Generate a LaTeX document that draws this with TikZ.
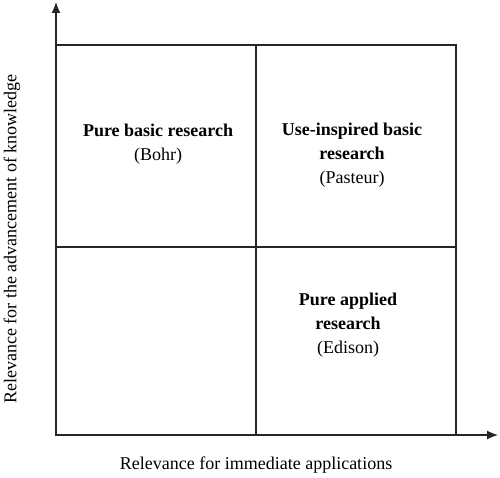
\documentclass[tikz,border=0pt]{standalone}
\usepackage{fontspec}
\setmainfont{Liberation Serif}
\usetikzlibrary{arrows.meta,positioning}
\tikzset{quad line/.style={draw=black!85, line width=1.2pt}}
\tikzset{axis edge/.style={-{Latex[length=11pt,width=9pt]}, draw=black!85, line width=1.2pt}}
\tikzset{quad text/.style={align=center, inner sep=2pt, font=\fontsize{18}{24}\selectfont}}
\tikzset{axis label/.style={inner sep=2pt, font=\fontsize{18}{21}\selectfont}}

\begin{document}
\begin{tikzpicture}[x=1pt,y=1pt]
		\useasboundingbox (0,0) rectangle (500,477);
		\coordinate (origin) at (56,42);
		\coordinate (ytip) at (56,475);
		\coordinate (xtip) at (498,42);

		% the four quadrants
		\draw[quad line] (56,42) rectangle (456,432);
		\draw[quad line] (256,42) -- (256,432);
		\draw[quad line] (56,230) -- (456,230);

		\draw[axis edge] (origin) -- (ytip);
		\draw[axis edge] (origin) -- (xtip);

		\node[quad text] (basic) at (158,333) {\textbf{Pure basic research}\\(Bohr)};
		\node[quad text] (pasteur) at (352,322) {\textbf{Use-inspired basic}\\\textbf{research}\\(Pasteur)};
		\node[quad text] (applied) at (348,152) {\textbf{Pure applied}\\\textbf{research}\\(Edison)};

		\node[axis label, rotate=90] (ylab) at (12,238) {Relevance for the advancement of knowledge};
		\node[axis label] (xlab) at (256,12) {Relevance for immediate applications};
	\end{tikzpicture}
\end{document}
